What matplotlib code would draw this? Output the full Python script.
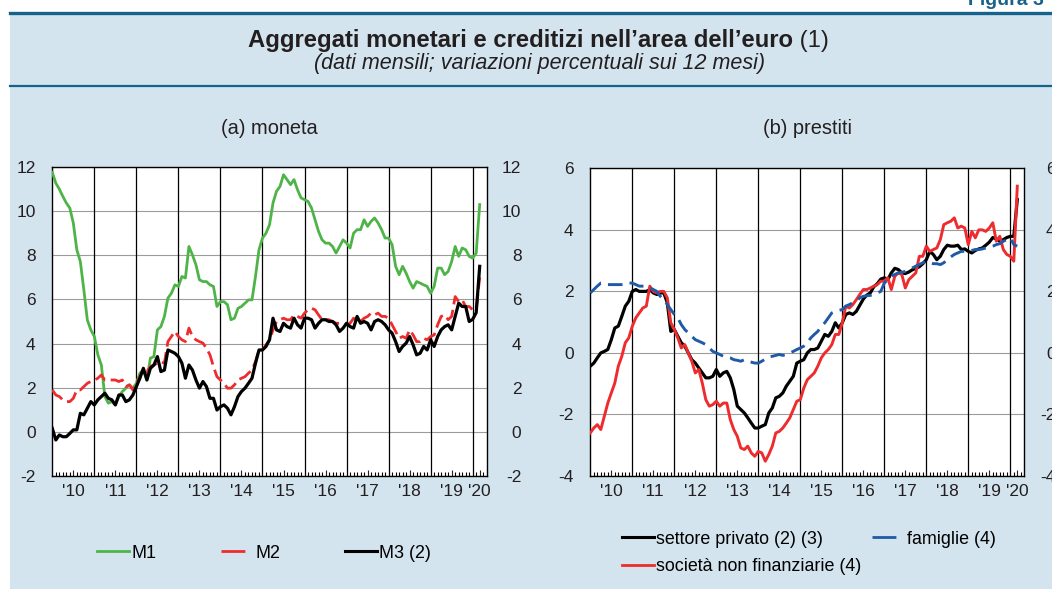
import numpy as np
import matplotlib
matplotlib.use('Agg')
import matplotlib.pyplot as plt
from matplotlib.patches import Rectangle
from matplotlib.lines import Line2D

plt.rcParams['font.family'] = ['Liberation Sans', 'DejaVu Sans']

# monthly data, Jan 2010 - Mar 2020 (12-month % changes)
m1 = [11.76, 11.27, 11.0, 10.67, 10.37, 10.14, 9.46, 8.25, 7.72, 6.44, 5.07, 4.62,
      4.32, 3.49, 3.03, 1.6, 1.3, 1.37, 1.22, 1.6, 1.83, 1.98, 2.13, 1.98,
      2.2, 2.66, 2.8, 2.35, 3.34, 3.41, 4.62, 4.77, 5.23, 6.06, 6.28, 6.66,
      6.59, 7.04, 6.97, 8.4, 8.02, 7.57, 6.89, 6.81, 6.81, 6.66, 6.59, 5.68,
      5.9, 5.9, 5.76, 5.08, 5.15, 5.6, 5.68, 5.83, 5.98, 5.98, 7.04, 8.25,
      8.78, 9.0, 9.38, 10.37, 10.9, 11.12, 11.65, 11.43, 11.2, 11.43, 10.97, 10.6,
      10.52, 10.44, 10.14, 9.61, 9.08, 8.7, 8.55, 8.55, 8.4, 8.1, 8.4, 8.7,
      8.55, 8.33, 9.0, 9.16, 9.16, 9.61, 9.31, 9.54, 9.69, 9.46, 9.16, 8.78,
      8.78, 8.48, 7.5, 7.12, 7.5, 7.19, 6.81, 6.51, 6.81, 6.74, 6.66, 6.59,
      6.28, 6.59, 7.42, 7.42, 7.12, 7.27, 7.72, 8.4, 7.95, 8.33, 8.25, 7.95,
      7.87, 8.1, 10.3]
m2 = [1.9, 1.67, 1.6, 1.45, 1.37, 1.37, 1.52, 1.9, 1.9, 2.05, 2.2, 2.28,
      2.35, 2.43, 2.58, 2.35, 2.35, 2.35, 2.35, 2.28, 2.35, 2.05, 2.13, 1.9,
      2.2, 2.5, 2.88, 2.73, 2.96, 3.03, 3.11, 3.18, 3.11, 4.09, 4.32, 4.55,
      4.32, 4.17, 4.09, 4.7, 4.32, 4.17, 4.09, 4.02, 3.79, 3.49, 2.96, 2.5,
      2.35, 2.2, 1.98, 1.98, 2.13, 2.35, 2.43, 2.5, 2.66, 2.8, 3.18, 3.71,
      3.71, 3.94, 4.17, 4.62, 5.0, 5.08, 5.15, 5.08, 5.08, 5.3, 5.23, 5.15,
      5.38, 5.53, 5.6, 5.53, 5.3, 5.08, 5.08, 5.08, 5.0, 4.92, 4.92, 4.92,
      4.85, 4.92, 5.15, 5.0, 5.0, 5.15, 5.23, 5.38, 5.3, 5.38, 5.23, 5.23,
      5.15, 4.85, 4.55, 4.24, 4.32, 4.24, 4.62, 4.39, 4.09, 4.09, 4.24, 4.17,
      4.32, 4.39, 4.85, 5.23, 5.3, 5.08, 5.23, 6.13, 5.9, 5.98, 5.68, 5.68,
      5.53, 5.53, 7.0]
m3 = [0.16, -0.37, -0.14, -0.22, -0.22, -0.07, 0.09, 0.09, 0.84, 0.77, 1.07, 1.37,
      1.22, 1.45, 1.6, 1.75, 1.52, 1.45, 1.22, 1.67, 1.67, 1.37, 1.45, 1.67,
      2.05, 2.43, 2.88, 2.35, 2.88, 3.03, 3.41, 2.73, 2.8, 3.71, 3.64, 3.56,
      3.41, 3.11, 2.43, 3.03, 2.8, 2.35, 1.98, 2.28, 2.05, 1.52, 1.52, 0.99,
      1.14, 1.22, 1.07, 0.77, 1.14, 1.6, 1.83, 1.98, 2.2, 2.43, 3.11, 3.71,
      3.71, 3.87, 4.17, 5.15, 4.62, 4.55, 4.92, 4.77, 4.7, 5.15, 4.85, 4.7,
      5.15, 5.15, 5.08, 4.7, 4.92, 5.08, 5.08, 5.0, 5.0, 4.85, 4.55, 4.7,
      4.92, 4.77, 4.7, 5.23, 4.92, 5.0, 4.92, 4.62, 5.0, 5.08, 5.0, 4.85,
      4.62, 4.47, 4.09, 3.64, 3.87, 4.02, 4.32, 3.94, 3.49, 3.56, 3.87, 3.71,
      4.17, 3.87, 4.32, 4.62, 4.77, 4.85, 4.62, 5.23, 5.83, 5.68, 5.68, 5.0,
      5.1, 5.4, 7.5]

privato = [-0.43, -0.33, -0.16, 0.0, 0.05, 0.11, 0.43, 0.81, 0.87, 1.19, 1.52, 1.68,
           2.0, 2.06, 2.0, 2.0, 2.0, 2.06, 1.95, 1.9, 1.95, 1.95, 1.63, 0.7,
           0.76, 0.54, 0.33, 0.22, 0.0, -0.22, -0.33, -0.49, -0.65, -0.81, -0.81, -0.76,
           -0.54, -0.76, -0.65, -0.6, -0.81, -1.19, -1.73, -1.84, -1.95, -2.11, -2.28, -2.44,
           -2.44, -2.38, -2.33, -1.95, -1.79, -1.46, -1.41, -1.3, -1.08, -0.92, -0.76, -0.33,
           -0.27, -0.22, 0.0, 0.11, 0.11, 0.16, 0.38, 0.6, 0.54, 0.7, 0.98, 0.81,
           0.98, 1.25, 1.3, 1.25, 1.35, 1.55, 1.75, 1.88, 1.95, 2.15, 2.25, 2.4,
           2.44, 2.38, 2.6, 2.75, 2.71, 2.6, 2.58, 2.63, 2.7, 2.75, 2.8, 2.9,
           3.03, 3.3, 3.2, 3.03, 3.14, 3.36, 3.5, 3.47, 3.47, 3.5, 3.36, 3.38,
           3.3, 3.25, 3.33, 3.38, 3.41, 3.5, 3.6, 3.75, 3.7, 3.63, 3.68, 3.75,
           3.79, 3.79, 4.98]
snf = [-2.6, -2.44, -2.33, -2.49, -2.06, -1.63, -1.3, -0.98, -0.43, -0.11, 0.33, 0.49,
       0.87, 1.14, 1.3, 1.46, 1.52, 2.17, 2.0, 1.95, 2.0, 2.0, 1.79, 0.98,
       0.76, 0.49, 0.16, 0.27, 0.0, -0.27, -0.65, -0.54, -0.98, -1.52, -1.73, -1.68,
       -1.57, -1.73, -1.63, -1.63, -2.17, -2.49, -2.71, -3.09, -3.14, -3.03, -3.25, -3.36,
       -3.2, -3.25, -3.52, -3.3, -3.03, -2.6, -2.55, -2.44, -2.28, -2.11, -1.84, -1.57,
       -1.52, -1.14, -0.87, -0.76, -0.65, -0.43, -0.16, 0.0, 0.11, 0.27, 0.6, 0.6,
       0.98, 1.52, 1.46, 1.57, 1.73, 1.9, 2.06, 2.06, 2.11, 2.17, 2.22, 2.33,
       2.33, 2.44, 2.06, 2.49, 2.6, 2.55, 2.11, 2.38, 2.49, 2.6, 3.14, 3.14,
       3.47, 3.3, 3.36, 3.41, 3.68, 4.17, 4.23, 4.28, 4.39, 4.06, 4.12, 4.06,
       3.52, 3.95, 3.74, 4.0, 4.0, 3.95, 4.06, 4.23, 3.63, 3.79, 3.36, 3.2,
       3.14, 2.98, 5.42]
famiglie = [1.95, 2.06, 2.17, 2.27, 2.27, 2.22, 2.22, 2.22, 2.22, 2.22, 2.22, 2.27,
            2.27, 2.22, 2.17, 2.17, 2.17, 2.11, 2.06, 2.0, 1.84, 1.73, 1.57, 1.41,
            1.25, 1.14, 0.92, 0.76, 0.65, 0.54, 0.43, 0.38, 0.33, 0.27, 0.16, 0.05,
            0.0, -0.05, -0.11, -0.13, -0.16, -0.22, -0.24, -0.27, -0.22, -0.27, -0.3, -0.33,
            -0.33, -0.27, -0.2, -0.13, -0.11, -0.08, -0.05, -0.08, -0.05, 0.0, 0.05, 0.11,
            0.16, 0.22, 0.33, 0.49, 0.6, 0.7, 0.87, 0.98, 1.14, 1.3, 1.35, 1.38,
            1.41, 1.52, 1.57, 1.63, 1.68, 1.79, 1.84, 1.86, 1.87, 1.9, 1.95, 2.0,
            2.27, 2.38, 2.49, 2.55, 2.6, 2.62, 2.65, 2.71, 2.76, 2.82, 2.87, 2.93,
            2.98, 2.93, 2.9, 2.9, 2.87, 2.93, 3.03, 3.12, 3.2, 3.25, 3.3, 3.3,
            3.3, 3.33, 3.36, 3.36, 3.38, 3.41, 3.44, 3.47, 3.52, 3.55, 3.63, 3.68,
            3.74, 3.52, 3.47]

years = list(range(2010, 2021))
year_labels = ["'10", "'11", "'12", "'13", "'14", "'15", "'16", "'17", "'18", "'19", "'20"]

t = 2010 + np.arange(len(m1)) / 12.0
xmax = 2020 + 4 / 12.0

W, H = 1052, 589
BG = '#d3e4ee'
DARK = '#17628b'
GREEN = '#4fb447'
RED = '#ee2c2e'
BLUE = '#1f5aa6'
TXT = '#231f20'

fig = plt.figure(figsize=(W / 100, H / 100), dpi=100)
fig.patch.set_facecolor('white')
fig.patches.append(Rectangle((10 / W, 0), 1, 1 - 13 / H, transform=fig.transFigure,
                             facecolor=BG, edgecolor='none', zorder=-10))
fig.add_artist(Line2D([10 / W, 1], [1 - 12.5 / H] * 2, color=DARK, lw=2.4))
fig.add_artist(Line2D([10 / W, 1], [1 - 86 / H] * 2, color=DARK, lw=1.6))
fig.text(968 / W, 1 - 5 / H, 'Figura 3', color=DARK, fontsize=14,
         fontweight='bold', va='baseline')

tl = fig.text(248 / W, 1 - 47 / H, 'Aggregati monetari e creditizi nell\u2019area dell\u2019euro',
              fontsize=17.2, fontweight='bold', va='baseline', color=TXT)
fig.canvas.draw()
bb = tl.get_window_extent(fig.canvas.get_renderer())
fig.text(bb.x1 / W, 1 - 47 / H, ' (1)', fontsize=17.2, va='baseline', color=TXT)
fig.text(539 / W, 1 - 69 / H, '(dati mensili; variazioni percentuali sui 12 mesi)',
         fontsize=15.5, fontstyle='italic', ha='center', va='baseline', color=TXT)


def setup(ax, ylim, step, title, right_pad):
    ax.set_facecolor('white')
    ax.set_xlim(2010, xmax)
    ax.set_ylim(*ylim)
    yt = np.arange(ylim[0], ylim[1] + 0.1, step)
    ax.set_yticks(yt)
    ax.set_yticklabels([f'{v:g}' for v in yt])
    for v in yt:
        ax.axhline(v, color='#9c9c9c', lw=0.8, zorder=1)
    for y in years[1:]:
        ax.axvline(y, color='black', lw=0.9, zorder=1)
    centers = [y + 0.5 for y in years[:-1]] + [(years[-1] + xmax) / 2]
    ax.set_xticks(centers)
    ax.set_xticklabels(year_labels)
    months = [2010 + k / 12 for k in range(1, 125) if k % 12 and 2010 + k / 12 < xmax]
    ax.set_xticks(months, minor=True)
    ax.tick_params(axis='x', which='major', direction='in', length=4.5, width=0.8,
                   labelsize=12.5, pad=6, colors=TXT)
    ax.tick_params(axis='x', which='minor', direction='in', length=2.6, width=0.8)
    ax.tick_params(axis='y', length=0, labelsize=12.5, pad=12, labelcolor=TXT)
    for s in ax.spines.values():
        s.set_color('black')
        s.set_linewidth(1)
    ax2 = ax.twinx()
    ax2.set_ylim(*ylim)
    ax2.set_yticks(yt)
    ax2.set_yticklabels([f'{v:g}' for v in yt])
    ax2.tick_params(axis='y', length=0, labelsize=12.5, pad=right_pad, labelcolor=TXT)
    for lab in ax2.get_yticklabels():
        lab.set_horizontalalignment('right')
    for s in ax2.spines.values():
        s.set_visible(False)
    bbox = ax.get_position()
    fig.text((bbox.x0 + bbox.x1) / 2, 1 - 129 / H, title, fontsize=14.4,
             ha='center', va='center', color=TXT)


ax_a = fig.add_axes([52.3 / W, 1 - 476 / H, 434.4 / W, 309 / H])
ax_b = fig.add_axes([590.3 / W, 1 - 476 / H, 434 / W, 307.7 / H])
setup(ax_a, (-2, 12), 2, '(a) moneta', 25)
setup(ax_b, (-4, 6), 2, '(b) prestiti', 22.5)

ax_a.plot(t, m1, color=GREEN, lw=2.0, zorder=3)
ax_a.plot(t, m2, color=RED, lw=2.0, dashes=(5, 2), zorder=3)
ax_a.plot(t, m3, color='black', lw=2.3, zorder=4)

ax_b.plot(t, privato, color='black', lw=2.3, zorder=3)
ax_b.plot(t, snf, color=RED, lw=2.1, zorder=4)
ax_b.plot(t, famiglie, color=BLUE, lw=2.1, dashes=(5, 2.5), zorder=5)

leg_kw = dict(frameon=False, fontsize=12.9, borderpad=0, borderaxespad=0,
              handlelength=1.8, handletextpad=0.12, loc='center left')
hl = [Line2D([], [], color=GREEN, lw=2),
      Line2D([], [], color=RED, lw=2, dashes=(8.6, 6)),
      Line2D([], [], color='black', lw=2.2)]
fig.legend(hl, ['M1', 'M2', 'M3 (2)'], ncol=3, columnspacing=3.6,
           bbox_to_anchor=(97 / W, 1 - 553 / H), **leg_kw)
hr = [Line2D([], [], color='black', lw=2.2),
      Line2D([], [], color=RED, lw=2),
      Line2D([], [], color=BLUE, lw=2, dashes=(8.6, 6))]
fig.legend(hr, ['settore privato (2) (3)', 'societ\u00e0 non finanziarie (4)', 'famiglie (4)'],
           ncol=2, columnspacing=0.6, labelspacing=0.6,
           bbox_to_anchor=(622 / W, 1 - 553 / H), **leg_kw)

fig.savefig('out.png', dpi=100, facecolor=fig.get_facecolor())
